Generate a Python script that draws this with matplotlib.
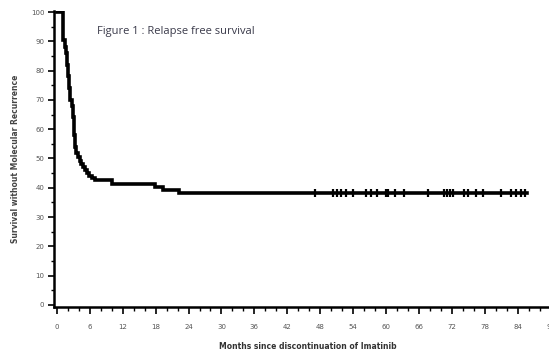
import matplotlib
matplotlib.use("Agg")
import matplotlib.pyplot as plt
import numpy as np
from matplotlib.ticker import MultipleLocator

# Kaplan-Meier steps (months, % relapse free)
step_t = [0, 1.05, 1.5, 1.65, 1.8, 1.9, 2.0, 2.1, 2.2, 2.3, 2.4, 2.5,
          2.85, 2.95, 3.0, 3.05, 3.1, 3.2, 3.25, 3.35, 3.45, 3.8, 4.2,
          4.5, 4.8, 5.1, 5.5, 5.9, 6.4, 6.9, 10.0, 17.9, 19.4, 22.2, 85.6]
step_s = [100, 90.5, 88, 86, 84, 82, 80, 78, 76, 74, 72, 70,
          68, 66, 64, 62, 60, 58, 56, 54, 52, 50.5, 49,
          48, 47, 46, 45, 44, 43.3, 42.5, 41.2, 40.3, 39.4, 38.2, 38.2]

# censored observations
cens_t = [47.1, 50.4, 51.1, 51.7, 52.6, 53.9, 56.3, 57.2, 58.4, 59.9, 60.4,
          61.7, 63.2, 67.6, 70.5, 71.0, 71.6, 72.1, 74.1, 74.9, 76.3, 77.6,
          80.9, 82.7, 83.6, 84.5, 85.3]
cens_s = [38.2] * len(cens_t)

title = "Figure 1 : Relapse free survival"
xlab = "Months since discontinuation of Imatinib"
ylab = "Survival without Molecular Recurrence"

fig = plt.figure(figsize=(5.49, 3.52), dpi=100)
ax = fig.add_axes([0.0984, 0.127, 0.925, 0.843])

ax.step(step_t, step_s, where="post", color="black", lw=2.6, solid_joinstyle="miter")
ax.plot(cens_t, cens_s, ls="none", marker="|", ms=5.5, mew=1.6, color="black")

ax.set_xlim(-0.5, 92)
ax.set_ylim(-0.8, 100.5)
ax.spines["top"].set_visible(False)
ax.spines["right"].set_visible(False)
ax.spines["left"].set_linewidth(1.8)
ax.spines["bottom"].set_linewidth(1.8)

ax.xaxis.set_major_locator(MultipleLocator(6))
ax.xaxis.set_minor_locator(MultipleLocator(2))
ax.yaxis.set_major_locator(MultipleLocator(10))
ax.yaxis.set_minor_locator(MultipleLocator(5))
ax.tick_params(axis="x", which="major", length=5, width=1.2, pad=7,
               labelsize=5, labelcolor="#555555")
ax.tick_params(axis="x", which="minor", length=3, width=1.0)
ax.tick_params(axis="y", which="major", length=4, width=1.2, pad=3,
               labelsize=5, labelcolor="#555555")
ax.tick_params(axis="y", which="minor", length=2.5, width=1.0)

ax.set_xlabel(xlab, fontsize=5.5, fontweight="bold", color="#333333", labelpad=9)
ax.set_ylabel(ylab, fontsize=5.5, fontweight="bold", color="#444444", labelpad=8)

ax.text(0.085, 0.93, title, transform=ax.transAxes, fontsize=8,
        family="Open Sans", color="#3a3a4a", va="center")

fig.savefig("out.png", dpi=100)
